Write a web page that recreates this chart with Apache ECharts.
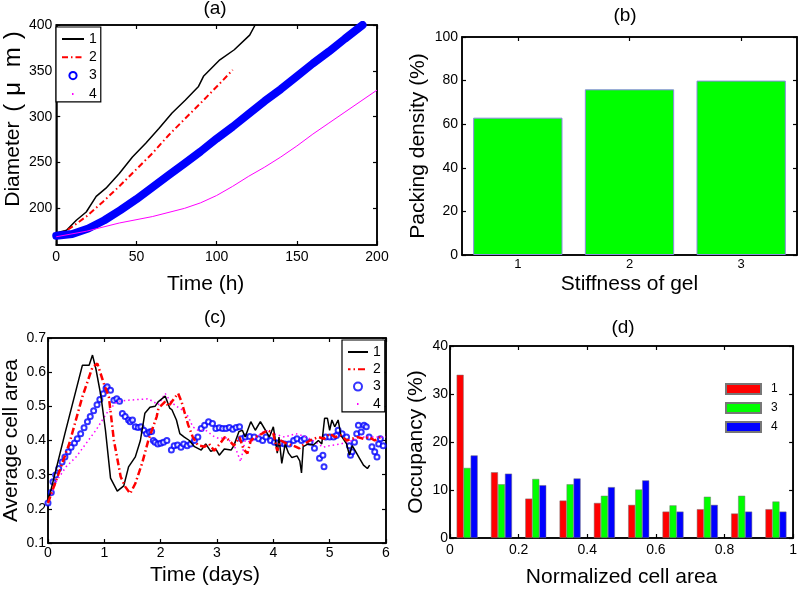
<!DOCTYPE html>
<html><head><meta charset="utf-8">
<script src="https://cdn.jsdelivr.net/npm/echarts@6/dist/echarts.min.js"></script>
<style>html,body{margin:0;padding:0;background:#fff}#c{width:800px;height:590px}</style>
</head><body><div id="c"></div>
<script>
const FONT = 'Liberation Sans, Arial, Helvetica, sans-serif';

// ---------- (a) diameter vs time (h): [time, diameter] ----------
const diam1 = [[0,173],[6.4,176],[12.5,187],[18.7,196],[24.9,213],[31,222],[39.3,238],[47.5,256],[55.8,271],[64,287],[72.2,304],[80.4,318],[88.7,333],[91.8,344],[96.9,353],[102,362],[111,373],[120.6,389],[124,400]];
const diam2 = [[0,169],[8.4,178],[18.7,191],[29,207],[39.3,224],[49.6,242],[59.9,260],[70.2,280],[80.4,298],[90.7,316],[103,338],[110,351]];
const diam3 = [[0,170],[10,172],[20,178],[30,187],[40,198],[50,210],[60,223],[70,236],[80,249],[90,262],[100,276],[110,289],[120,303],[130,317],[140,330],[150,344],[160,358],[170,371],[180,385],[191,400]];
const diam4 = [[0,169],[18.7,175],[39.3,184],[59.9,191],[80,200],[90,206],[100,214],[110,224],[120,235],[130,245],[140,256],[150,268],[160,281],[170,293],[180,305],[190,317],[200,329]];
const diamTicks = [200,250,300,350,400];

// ---------- (b) packing density ----------
const stiffness = ['1','2','3'];
const packing = [63, 76, 80];

// ---------- (c) average cell area vs time (days): [time, area] ----------
const area1 = [[0,0.22],[0.3,0.42],[0.61,0.62],[0.73,0.62],[0.79,0.65],[0.85,0.61],[0.94,0.53],[1.02,0.43],[1.11,0.29],[1.23,0.252],[1.345,0.267],[1.43,0.323],[1.55,0.352],[1.64,0.40],[1.72,0.48],[1.81,0.497],[1.9,0.50],[1.96,0.514],[2.08,0.53],[2.16,0.495],[2.2,0.49],[2.28,0.46],[2.34,0.42],[2.42,0.41],[2.51,0.40],[2.6,0.382],[2.72,0.372],[2.8,0.39],[2.89,0.368],[2.98,0.375],[3.04,0.357],[3.13,0.375],[3.25,0.372],[3.3,0.385],[3.39,0.426],[3.45,0.43],[3.5,0.41],[3.6,0.455],[3.68,0.43],[3.77,0.455],[3.86,0.43],[3.93,0.41],[4.0,0.44],[4.07,0.363],[4.1,0.41],[4.15,0.333],[4.21,0.39],[4.27,0.363],[4.33,0.35],[4.42,0.355],[4.47,0.34],[4.5,0.305],[4.53,0.382],[4.62,0.39],[4.71,0.387],[4.8,0.40],[4.86,0.39],[4.91,0.465],[4.96,0.465],[5.0,0.43],[5.04,0.46],[5.09,0.44],[5.15,0.46],[5.2,0.415],[5.3,0.39],[5.35,0.357],[5.4,0.385],[5.47,0.365],[5.53,0.348],[5.6,0.328],[5.67,0.318],[5.71,0.328]];
const area2 = [[0,0.217],[0.146,0.284],[0.38,0.392],[0.61,0.528],[0.79,0.615],[0.877,0.625],[0.965,0.58],[0.99,0.567],[1.08,0.528],[1.17,0.40],[1.29,0.294],[1.37,0.265],[1.46,0.245],[1.55,0.274],[1.67,0.333],[1.78,0.40],[1.93,0.47],[1.96,0.494],[2.08,0.514],[2.14,0.50],[2.2,0.514],[2.31,0.538],[2.37,0.514],[2.43,0.479],[2.49,0.445],[2.57,0.41],[2.66,0.386],[2.78,0.382],[2.86,0.39],[2.95,0.37],[3.05,0.39],[3.14,0.41],[3.22,0.40],[3.3,0.385],[3.4,0.41],[3.47,0.375],[3.54,0.362],[3.6,0.40],[3.68,0.41],[3.8,0.42],[3.9,0.43],[4.0,0.42],[4.07,0.37],[4.13,0.40],[4.25,0.39],[4.35,0.385],[4.46,0.377],[4.55,0.39],[4.65,0.40],[4.8,0.41],[4.9,0.405],[5.0,0.42],[5.1,0.41],[5.2,0.415],[5.3,0.40],[5.4,0.405],[5.5,0.41],[5.6,0.405],[5.7,0.41],[5.8,0.40],[5.9,0.41]];
const area3 = [[0,0.217],[0.058,0.248],[0.088,0.279],[0.135,0.299],[0.19,0.318],[0.25,0.337],[0.3,0.352],[0.36,0.367],[0.41,0.38],[0.47,0.393],[0.52,0.405],[0.58,0.42],[0.64,0.437],[0.7,0.455],[0.75,0.47],[0.81,0.487],[0.87,0.505],[0.92,0.52],[0.98,0.537],[1.03,0.553],[1.05,0.557],[1.11,0.547],[1.17,0.518],[1.22,0.522],[1.27,0.515],[1.32,0.479],[1.37,0.47],[1.43,0.46],[1.46,0.455],[1.5,0.46],[1.55,0.44],[1.6,0.438],[1.65,0.44],[1.7,0.43],[1.75,0.42],[1.8,0.425],[1.84,0.426],[1.87,0.40],[1.9,0.395],[1.95,0.39],[2.0,0.392],[2.05,0.395],[2.11,0.40],[2.19,0.372],[2.24,0.385],[2.3,0.387],[2.36,0.38],[2.41,0.39],[2.47,0.385],[2.53,0.39],[2.6,0.40],[2.66,0.41],[2.72,0.435],[2.78,0.445],[2.85,0.455],[2.92,0.45],[2.98,0.435],[3.04,0.437],[3.1,0.435],[3.16,0.435],[3.22,0.438],[3.28,0.433],[3.34,0.438],[3.4,0.44],[3.43,0.405],[3.5,0.41],[3.58,0.412],[3.66,0.41],[3.74,0.405],[3.81,0.40],[3.87,0.41],[3.95,0.40],[4.02,0.395],[4.08,0.393],[4.14,0.392],[4.2,0.39],[4.28,0.39],[4.36,0.40],[4.42,0.405],[4.5,0.40],[4.55,0.405],[4.65,0.395],[4.73,0.377],[4.82,0.348],[4.88,0.357],[4.9,0.323],[4.93,0.41],[5.0,0.41],[5.07,0.41],[5.12,0.415],[5.15,0.43],[5.22,0.42],[5.3,0.41],[5.35,0.385],[5.37,0.357],[5.4,0.367],[5.44,0.395],[5.48,0.42],[5.51,0.445],[5.56,0.425],[5.61,0.445],[5.65,0.44],[5.7,0.41],[5.75,0.382],[5.8,0.367],[5.84,0.352],[5.87,0.39],[5.9,0.405],[5.95,0.385]];
const area4 = [[0,0.217],[0.146,0.28],[0.32,0.323],[0.5,0.352],[0.67,0.39],[0.85,0.43],[0.965,0.46],[1.08,0.489],[1.23,0.514],[1.43,0.518],[1.6,0.52],[1.78,0.522],[1.96,0.505],[2.08,0.538],[2.17,0.515],[2.28,0.50],[2.38,0.49],[2.49,0.47],[2.57,0.44],[2.66,0.43],[2.8,0.43],[2.96,0.41],[3.05,0.405],[3.14,0.41],[3.22,0.40],[3.33,0.377],[3.42,0.338],[3.5,0.40],[3.6,0.395],[3.7,0.41],[3.86,0.43],[4.0,0.42],[4.2,0.41],[4.4,0.42],[4.6,0.41],[4.8,0.39],[4.88,0.38],[5.0,0.385],[5.2,0.39],[5.4,0.40],[5.6,0.41],[5.8,0.41],[6.0,0.41]];

// ---------- (d) occupancy histogram ----------
const binCenters = [0.05,0.15,0.25,0.35,0.45,0.55,0.65,0.75,0.85,0.95];
const occ1 = [34.0,13.7,8.2,7.8,7.3,6.9,5.5,6.0,5.1,6.0];
const occ3 = [14.6,11.2,12.3,11.2,8.8,10.1,6.8,8.6,8.8,7.6];
const occ4 = [17.2,13.4,11.0,12.4,10.6,12.0,5.5,6.9,5.5,5.5];

// ---------- helpers ----------
const pair = (xs, ys) => xs.map((x, i) => [x, ys[i]]);
function ax(o) {
  const base = {
    axisLine: { show: true, onZero: false, lineStyle: { color: '#000', width: 1.5 } },
    axisTick: { show: true, inside: true, length: 4, lineStyle: { color: '#000', width: 1.2 } },
    splitLine: { show: false },
    axisLabel: { color: '#000', fontSize: 14, fontFamily: FONT, margin: 5 },
    nameTextStyle: { color: '#000', fontSize: 21, fontFamily: FONT }
  };
  const r = Object.assign({}, base, o);
  ['axisLine','axisTick','axisLabel','nameTextStyle'].forEach(k => {
    if (o[k]) r[k] = Object.assign({}, base[k], o[k]);
  });
  return r;
}
const noLab = { show: false };
const box = { show: true, borderColor: '#000', borderWidth: 1.5, backgroundColor: 'transparent' };

const chart = echarts.init(document.getElementById('c'), null, { renderer: 'canvas' });
const option = {
  backgroundColor: '#fff',
  animation: false,
  textStyle: { fontFamily: FONT },
  grid: [
    Object.assign({ left: 53, top: 25, width: 324, height: 220 }, box),
    Object.assign({ left: 462, top: 37, width: 335, height: 218 }, box),
    Object.assign({ left: 45, top: 338, width: 341, height: 205 }, box),
    Object.assign({ left: 450, top: 346, width: 344, height: 192 }, box)
  ],
  xAxis: [
    ax({ gridIndex: 0, type: 'value', min: 0, max: 200, interval: 50, name: 'Time (h)', nameLocation: 'middle', nameGap: 29, nameTextStyle: { padding: [0, 22, 0, 0] } }),
    ax({ gridIndex: 0, type: 'value', position: 'top', min: 0, max: 200, interval: 50, axisLabel: noLab }),
    ax({ gridIndex: 1, type: 'category', data: stiffness, axisTick: { alignWithLabel: true }, axisLabel: { fontSize: 13, margin: 3 }, name: 'Stiffness of gel', nameLocation: 'middle', nameGap: 19 }),
    ax({ gridIndex: 1, type: 'category', position: 'top', data: stiffness, axisTick: { alignWithLabel: true }, axisLabel: noLab }),
    ax({ gridIndex: 2, type: 'value', min: 0, max: 6, interval: 1, axisLabel: { margin: 3 }, name: 'Time (days)', nameLocation: 'middle', nameGap: 22, nameTextStyle: { padding: [0, 24, 0, 0] } }),
    ax({ gridIndex: 2, type: 'value', position: 'top', min: 0, max: 6, interval: 1, axisLabel: noLab }),
    ax({ gridIndex: 3, type: 'value', min: 0, max: 1, interval: 0.2, name: 'Normalized cell area', nameLocation: 'middle', nameGap: 29 }),
    ax({ gridIndex: 3, type: 'value', position: 'top', min: 0, max: 1, interval: 0.2, axisLabel: noLab })
  ],
  yAxis: [
    ax({ gridIndex: 0, type: 'value', min: 160, max: 400, axisLabel: { customValues: diamTicks, margin: 4 }, axisTick: { customValues: diamTicks },
         name: '{t|Diameter }{g|(}{g|μ}{g| m}{g|)}', nameLocation: 'middle', nameGap: 31,
         nameTextStyle: { padding: [0, 0, 0, 36], rich: { t: { fontSize: 21, fontFamily: FONT, color: '#000' }, g: { fontSize: 24, fontFamily: FONT, color: '#000', padding: [0, 4] } } } }),
    ax({ gridIndex: 0, type: 'value', position: 'right', min: 160, max: 400, axisLabel: { show: false, customValues: diamTicks }, axisTick: { customValues: diamTicks } }),
    ax({ gridIndex: 1, type: 'value', min: 0, max: 100, interval: 20, axisLabel: { margin: 4 }, name: 'Packing density (%)', nameLocation: 'middle', nameGap: 33 }),
    ax({ gridIndex: 1, type: 'value', position: 'right', min: 0, max: 100, interval: 20, axisLabel: noLab }),
    ax({ gridIndex: 2, type: 'value', min: 0.1, max: 0.7, interval: 0.1, axisLabel: { margin: 2, formatter: v => v.toFixed(1) }, name: 'Average cell area', nameLocation: 'middle', nameGap: 26 }),
    ax({ gridIndex: 2, type: 'value', position: 'right', min: 0.1, max: 0.7, interval: 0.1, axisLabel: noLab }),
    ax({ gridIndex: 3, type: 'value', min: 0, max: 40, interval: 10, axisLabel: { margin: 2 }, name: 'Occupancy (%)', nameLocation: 'middle', nameGap: 23 }),
    ax({ gridIndex: 3, type: 'value', position: 'right', min: 0, max: 40, interval: 10, axisLabel: noLab })
  ],
  legend: [
    { left: 56, top: 27, orient: 'vertical', itemWidth: 22, itemHeight: 9, itemGap: 4.3, padding: [5, 4, 1, 5],
      borderColor: '#000', borderWidth: 1.2, backgroundColor: '#fff',
      textStyle: { fontSize: 14, color: '#000', fontFamily: FONT, lineHeight: 14 }, formatter: n => n.slice(1),
      data: [
        { name: 'a1', itemStyle: { opacity: 0 } },
        { name: 'a2', itemStyle: { opacity: 0 } },
        { name: 'a3', lineStyle: { opacity: 0 } },
        { name: 'a4', itemStyle: { opacity: 0 }, lineStyle: { type: [1.5, 40], dashOffset: -10, width: 2 } }
      ] },
    { left: 342, top: 340, orient: 'vertical', itemWidth: 20, itemHeight: 8, itemGap: 3.3, padding: [5, 4, 1, 5],
      borderColor: '#000', borderWidth: 1.2, backgroundColor: '#fff',
      textStyle: { fontSize: 14, color: '#000', fontFamily: FONT, lineHeight: 14 }, formatter: n => n.slice(1),
      data: [
        { name: 'c1', itemStyle: { opacity: 0 } },
        { name: 'c2', itemStyle: { opacity: 0 } },
        { name: 'c3' },
        { name: 'c4', itemStyle: { opacity: 0 }, lineStyle: { type: [1.5, 40], dashOffset: -9, width: 2 } }
      ] },
    { left: 725, top: 383, orient: 'vertical', itemWidth: 35, itemHeight: 10, itemGap: 7, icon: 'rect', padding: 0,
      textStyle: { fontSize: 12, color: '#000', fontFamily: FONT, padding: [0, 0, 0, 5] }, formatter: n => n.slice(1),
      data: ['d1', 'd3', 'd4'] }
  ],
  graphic: [
    { type: 'text', x: 215, y: 9, style: { text: '(a)', fontSize: 19, fontFamily: FONT, fill: '#000', align: 'center', verticalAlign: 'middle' } },
    { type: 'text', x: 625, y: 16, style: { text: '(b)', fontSize: 19, fontFamily: FONT, fill: '#000', align: 'center', verticalAlign: 'middle' } },
    { type: 'text', x: 215, y: 318, style: { text: '(c)', fontSize: 19, fontFamily: FONT, fill: '#000', align: 'center', verticalAlign: 'middle' } },
    { type: 'text', x: 623, y: 328, style: { text: '(d)', fontSize: 19, fontFamily: FONT, fill: '#000', align: 'center', verticalAlign: 'middle' } }
  ],
  series: [
    { name: 'a1', type: 'line', xAxisIndex: 0, yAxisIndex: 0, data: diam1, symbol: 'none', lineStyle: { color: '#000', width: 1.5 }, itemStyle: { color: '#000' } },
    { name: 'a2', type: 'line', xAxisIndex: 0, yAxisIndex: 0, data: diam2, symbol: 'none', lineStyle: { color: '#ff0000', width: 2, type: [6, 3, 1.5, 3] }, itemStyle: { color: '#ff0000' } },
    { name: 'a3', type: 'line', xAxisIndex: 0, yAxisIndex: 0, data: diam3, symbol: 'emptyCircle', showSymbol: false, lineStyle: { color: '#0000ff', width: 8, cap: 'round' }, itemStyle: { color: '#0000ff' } },
    { name: 'a4', type: 'line', xAxisIndex: 0, yAxisIndex: 0, data: diam4, symbol: 'none', lineStyle: { color: '#ff00ff', width: 1 }, itemStyle: { color: '#ff00ff' } },

    { name: 'b', type: 'bar', xAxisIndex: 2, yAxisIndex: 2, data: packing, barWidth: '80%', itemStyle: { color: '#00ff00', borderColor: '#8a8ae0', borderWidth: 1 } },

    { name: 'c4', type: 'line', xAxisIndex: 4, yAxisIndex: 4, data: area4, symbol: 'none', lineStyle: { color: '#ff00ff', width: 1.5, type: [1.5, 3] }, itemStyle: { color: '#ff00ff' } },
    { name: 'c1', type: 'line', xAxisIndex: 4, yAxisIndex: 4, data: area1, symbol: 'none', lineStyle: { color: '#000', width: 1.5 }, itemStyle: { color: '#000' } },
    { name: 'c2', type: 'line', xAxisIndex: 4, yAxisIndex: 4, data: area2, symbol: 'none', lineStyle: { color: '#ff0000', width: 2.5, type: [7, 3, 1.5, 3] }, itemStyle: { color: '#ff0000' } },
    { name: 'c3', type: 'scatter', xAxisIndex: 4, yAxisIndex: 4, data: area3, symbol: 'emptyCircle', symbolSize: 5, itemStyle: { color: '#0000ff', borderWidth: 1.8 } },

    { name: 'd1', type: 'bar', xAxisIndex: 6, yAxisIndex: 6, data: pair(binCenters, occ1), barWidth: 7, barGap: '0%', itemStyle: { color: '#ff0000', borderColor: '#777', borderWidth: 0.5 } },
    { name: 'd3', type: 'bar', xAxisIndex: 6, yAxisIndex: 6, data: pair(binCenters, occ3), barWidth: 7, barGap: '0%', itemStyle: { color: '#00ff00', borderColor: '#777', borderWidth: 0.5 } },
    { name: 'd4', type: 'bar', xAxisIndex: 6, yAxisIndex: 6, data: pair(binCenters, occ4), barWidth: 7, barGap: '0%', itemStyle: { color: '#0000ff', borderColor: '#777', borderWidth: 0.5 } }
  ]
};
chart.setOption(option);
</script>
</body></html>
